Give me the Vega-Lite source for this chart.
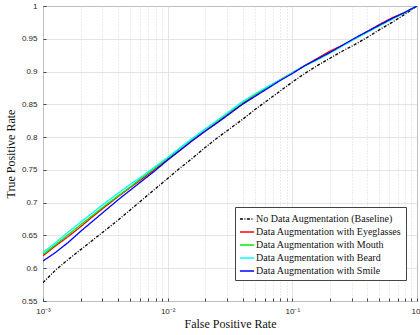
{
  "$schema": "https://vega.github.io/schema/vega-lite/v6.json",
  "width": 374,
  "height": 295,
  "autosize": "none",
  "padding": {"left": 43, "top": 6, "right": 3, "bottom": 34},
  "background": "white",
  "config": {
    "view": {"stroke": "#444444", "strokeWidth": 1},
    "axis": {
      "labelFont": "Liberation Sans",
      "labelFontSize": 8,
      "labelColor": "#262626",
      "titleFont": "Liberation Serif",
      "titleFontSize": 12,
      "titleFontWeight": "normal",
      "titleColor": "#111111",
      "domain": false,
      "tickColor": "#444444",
      "tickSize": -3,
      "gridColor": "#dedede",
      "gridWidth": 0.8
    }
  },
  "datasets": {
    "names": [
      {"key": "baseline", "label": "No Data Augmentation (Baseline)"},
      {"key": "eyeglasses", "label": "Data Augmentation with Eyeglasses"},
      {"key": "mouth", "label": "Data Augmentation with Mouth"},
      {"key": "beard", "label": "Data Augmentation with Beard"},
      {"key": "smile", "label": "Data Augmentation with Smile"}
    ]
  },
  "data": {
    "values": [
      {"fpr": 0.001, "baseline": 0.578, "eyeglasses": 0.619, "mouth": 0.621, "beard": 0.624, "smile": 0.611},
      {"fpr": 0.001259, "baseline": 0.597, "eyeglasses": 0.634, "mouth": 0.636, "beard": 0.639, "smile": 0.624},
      {"fpr": 0.001585, "baseline": 0.613, "eyeglasses": 0.648, "mouth": 0.651, "beard": 0.655, "smile": 0.639},
      {"fpr": 0.001995, "baseline": 0.628, "eyeglasses": 0.663, "mouth": 0.666, "beard": 0.670, "smile": 0.656},
      {"fpr": 0.002512, "baseline": 0.643, "eyeglasses": 0.679, "mouth": 0.681, "beard": 0.685, "smile": 0.672},
      {"fpr": 0.003162, "baseline": 0.658, "eyeglasses": 0.694, "mouth": 0.696, "beard": 0.700, "smile": 0.688},
      {"fpr": 0.003981, "baseline": 0.673, "eyeglasses": 0.709, "mouth": 0.710, "beard": 0.714, "smile": 0.704},
      {"fpr": 0.005012, "baseline": 0.689, "eyeglasses": 0.723, "mouth": 0.724, "beard": 0.728, "smile": 0.719},
      {"fpr": 0.00631, "baseline": 0.705, "eyeglasses": 0.737, "mouth": 0.739, "beard": 0.741, "smile": 0.734},
      {"fpr": 0.007943, "baseline": 0.721, "eyeglasses": 0.751, "mouth": 0.753, "beard": 0.755, "smile": 0.749},
      {"fpr": 0.01, "baseline": 0.737, "eyeglasses": 0.766, "mouth": 0.768, "beard": 0.769, "smile": 0.765},
      {"fpr": 0.01259, "baseline": 0.753, "eyeglasses": 0.780, "mouth": 0.783, "beard": 0.784, "smile": 0.780},
      {"fpr": 0.01585, "baseline": 0.768, "eyeglasses": 0.795, "mouth": 0.798, "beard": 0.798, "smile": 0.795},
      {"fpr": 0.01995, "baseline": 0.784, "eyeglasses": 0.809, "mouth": 0.812, "beard": 0.812, "smile": 0.809},
      {"fpr": 0.02512, "baseline": 0.799, "eyeglasses": 0.823, "mouth": 0.825, "beard": 0.826, "smile": 0.822},
      {"fpr": 0.03162, "baseline": 0.813, "eyeglasses": 0.837, "mouth": 0.839, "beard": 0.840, "smile": 0.836},
      {"fpr": 0.03981, "baseline": 0.827, "eyeglasses": 0.851, "mouth": 0.853, "beard": 0.854, "smile": 0.850},
      {"fpr": 0.05012, "baseline": 0.842, "eyeglasses": 0.864, "mouth": 0.865, "beard": 0.866, "smile": 0.862},
      {"fpr": 0.0631, "baseline": 0.856, "eyeglasses": 0.876, "mouth": 0.876, "beard": 0.877, "smile": 0.874},
      {"fpr": 0.07943, "baseline": 0.870, "eyeglasses": 0.887, "mouth": 0.887, "beard": 0.887, "smile": 0.886},
      {"fpr": 0.1, "baseline": 0.884, "eyeglasses": 0.898, "mouth": 0.898, "beard": 0.898, "smile": 0.897},
      {"fpr": 0.1259, "baseline": 0.897, "eyeglasses": 0.909, "mouth": 0.909, "beard": 0.909, "smile": 0.909},
      {"fpr": 0.1585, "baseline": 0.909, "eyeglasses": 0.920, "mouth": 0.918, "beard": 0.918, "smile": 0.919},
      {"fpr": 0.1995, "baseline": 0.920, "eyeglasses": 0.931, "mouth": 0.928, "beard": 0.928, "smile": 0.929},
      {"fpr": 0.2512, "baseline": 0.931, "eyeglasses": 0.940, "mouth": 0.939, "beard": 0.939, "smile": 0.940},
      {"fpr": 0.3162, "baseline": 0.941, "eyeglasses": 0.950, "mouth": 0.950, "beard": 0.950, "smile": 0.951},
      {"fpr": 0.3981, "baseline": 0.952, "eyeglasses": 0.961, "mouth": 0.960, "beard": 0.960, "smile": 0.961},
      {"fpr": 0.5012, "baseline": 0.964, "eyeglasses": 0.972, "mouth": 0.970, "beard": 0.970, "smile": 0.971},
      {"fpr": 0.631, "baseline": 0.975, "eyeglasses": 0.982, "mouth": 0.980, "beard": 0.980, "smile": 0.981},
      {"fpr": 0.7943, "baseline": 0.987, "eyeglasses": 0.990, "mouth": 0.990, "beard": 0.990, "smile": 0.990},
      {"fpr": 1, "baseline": 1.0, "eyeglasses": 1.0, "mouth": 1.0, "beard": 1.0, "smile": 1.0}
    ]
  },
  "transform": [
    {"fold": ["baseline", "eyeglasses", "mouth", "beard", "smile"], "as": ["key", "tpr"]},
    {"lookup": "key", "from": {"data": {"name": "names"}, "key": "key", "fields": ["label"]}}
  ],
  "mark": {"type": "line", "strokeWidth": 1.3, "clip": true},
  "encoding": {
    "x": {
      "field": "fpr",
      "type": "quantitative",
      "scale": {"type": "log", "domain": [0.001, 1], "nice": false},
      "axis": {
        "title": "False Positive Rate",
        "values": [0.001, 0.002, 0.003, 0.004, 0.005, 0.006, 0.007, 0.008, 0.009, 0.01, 0.02, 0.03, 0.04, 0.05, 0.06, 0.07, 0.08, 0.09, 0.1, 0.2, 0.3, 0.4, 0.5, 0.6, 0.7, 0.8, 0.9, 1],
        "labelExpr": "abs(datum.value - 0.001) < 1e-9 ? '10⁻³' : abs(datum.value - 0.01) < 1e-9 ? '10⁻²' : abs(datum.value - 0.1) < 1e-9 ? '10⁻¹' : abs(datum.value - 1) < 1e-9 ? '10⁰' : ''",
        "labelPadding": 9,
        "labelFlush": false,
        "labelOverlap": false,
        "titlePadding": 3,
        "gridDash": {"condition": {"test": "abs(log(datum.value)/LN10 - round(log(datum.value)/LN10)) < 0.001", "value": []}, "value": [1, 2]},
        "gridColor": {"condition": {"test": "abs(log(datum.value)/LN10 - round(log(datum.value)/LN10)) < 0.001", "value": "#dedede"}, "value": "#cfcfcf"}
      }
    },
    "y": {
      "field": "tpr",
      "type": "quantitative",
      "scale": {"domain": [0.55, 1], "nice": false, "zero": false},
      "axis": {
        "title": "True Positive Rate",
        "values": [0.55, 0.6, 0.65, 0.7, 0.75, 0.8, 0.85, 0.9, 0.95, 1],
        "labelExpr": "format(datum.value, '~g')",
        "labelPadding": 9,
        "titlePadding": 4
      }
    },
    "color": {
      "field": "label",
      "type": "nominal",
      "scale": {
        "domain": ["No Data Augmentation (Baseline)", "Data Augmentation with Eyeglasses", "Data Augmentation with Mouth", "Data Augmentation with Beard", "Data Augmentation with Smile"],
        "range": ["#000000", "#ff0000", "#00ee00", "#00ffff", "#0000ff"]
      },
      "legend": {
        "title": null,
        "orient": "none",
        "legendX": 192,
        "legendY": 201,
        "fillColor": "white",
        "strokeColor": "#444444",
        "padding": 4,
        "symbolType": "stroke",
        "symbolSize": 200,
        "symbolStrokeWidth": 1.5,
        "labelFont": "Liberation Serif",
        "labelFontSize": 10,
        "labelColor": "#111111",
        "labelOffset": 1,
        "rowPadding": 0,
        "labelLimit": 300
      }
    },
    "strokeDash": {
      "field": "label",
      "type": "nominal",
      "scale": {
        "domain": ["No Data Augmentation (Baseline)", "Data Augmentation with Eyeglasses", "Data Augmentation with Mouth", "Data Augmentation with Beard", "Data Augmentation with Smile"],
        "range": [[3, 1.5, 1, 1.5], [1, 0], [1, 0], [1, 0], [1, 0]]
      },
      "legend": null
    }
  }
}
